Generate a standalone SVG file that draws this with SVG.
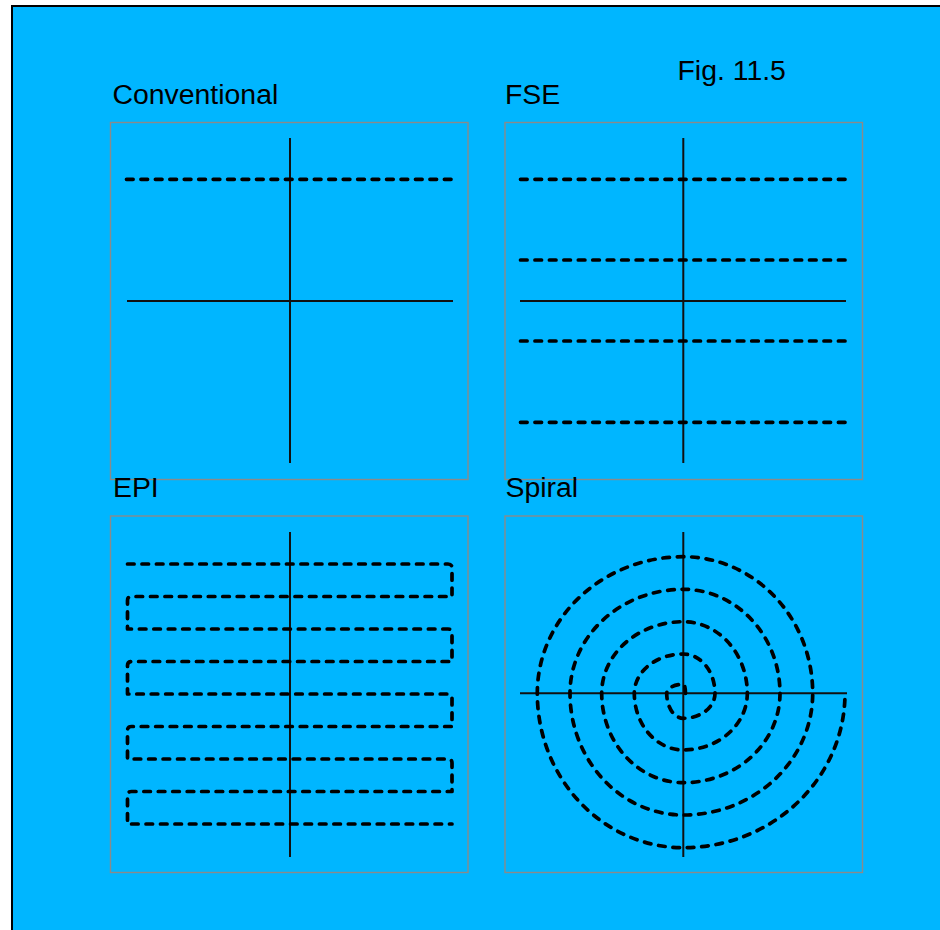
<svg xmlns="http://www.w3.org/2000/svg" width="940" height="930" viewBox="0 0 940 930">
<style>
.bg{fill:#00b6ff;stroke:#000;stroke-width:2}
.frame{fill:none;stroke:#8a8a8a;stroke-width:1.4}
.axis{fill:none;stroke:#111;stroke-width:2}
.dash{fill:none;stroke:#000;stroke-width:3.7;stroke-dasharray:6.6 7.85;stroke-linecap:round;stroke-linejoin:round}
.title{font-family:"Liberation Sans",Arial,sans-serif;font-size:28.4px;fill:#000}
</style>
<rect x="0" y="0" width="940" height="930" fill="#fff"/>
<rect class="bg" x="12" y="6" width="940" height="940"/>
<text class="title" x="677.5" y="79.5">Fig. 11.5</text>

<g id="panel-conventional">
<text class="title" x="112.5" y="104">Conventional</text>
<rect class="frame" x="110.5" y="122.5" width="357.5" height="357"/>
<line class="axis" x1="290" y1="138" x2="290" y2="463"/>
<line class="axis" x1="127" y1="301" x2="453" y2="301"/>
<path class="dash" d="M126.5,179.3 H452.5"/>
</g>

<g id="panel-fse">
<text class="title" x="505" y="103.5">FSE</text>
<rect class="frame" x="505" y="122.5" width="357.5" height="357"/>
<line class="axis" x1="683.3" y1="138" x2="683.3" y2="463"/>
<line class="axis" x1="520" y1="301" x2="846" y2="301"/>
<path class="dash" d="M520.5,179.3 H845.5 M520.5,260 H845.5 M520.5,341 H845.5 M520.5,422.3 H845.5"/>
</g>

<g id="panel-epi">
<text class="title" x="113" y="496.5">EPI</text>
<rect class="frame" x="110.5" y="516" width="357.5" height="356.5"/>
<line class="axis" x1="290" y1="532" x2="290" y2="857"/>
<path class="dash" d="M127.5,564 H448 Q452,564 452,568 V596.5 H131.5 Q127.5,596.5 127.5,600.5 V629 H448 Q452,629 452,633 V661.5 H131.5 Q127.5,661.5 127.5,665.5 V694 H448 Q452,694 452,698 V726.5 H131.5 Q127.5,726.5 127.5,730.5 V759 H448 Q452,759 452,763 V791.5 H131.5 Q127.5,791.5 127.5,795.5 V824 H452"/>
</g>

<g id="panel-spiral">
<text class="title" x="505.5" y="496.5">Spiral</text>
<rect class="frame" x="505" y="516" width="357.5" height="356.5"/>
<line class="axis" x1="683.3" y1="532" x2="683.3" y2="857"/>
<line class="axis" x1="520" y1="693.3" x2="847" y2="693.3"/>
<path class="dash" d="M685.5,693.3 A2.2,9 0 0 0 683.3,684.3 A16.6,9 0 0 0 666.7,693.3 A16.6,25 0 0 0 683.3,718.3 A31.7,25 0 0 0 715,693.3 A31.7,39.3 0 0 0 683.3,654 A49,39.3 0 0 0 634.3,693.3 A49,56.7 0 0 0 683.3,750 A64,56.7 0 0 0 747.3,693.3 A64,71.6 0 0 0 683.3,621.7 A81.6,71.6 0 0 0 601.7,693.3 A81.6,89.4 0 0 0 683.3,782.7 A96.7,89.4 0 0 0 780,693.3 A96.7,104 0 0 0 683.3,589.3 A113.3,104 0 0 0 570,693.3 A113.3,121.7 0 0 0 683.3,815 A129.4,121.7 0 0 0 812.7,693.3 A129.4,136.6 0 0 0 683.3,556.7 A146,136.6 0 0 0 537.3,693.3 A146,154.4 0 0 0 683.3,847.7 A161.7,154.4 0 0 0 845,693.3"/>
</g>
</svg>
